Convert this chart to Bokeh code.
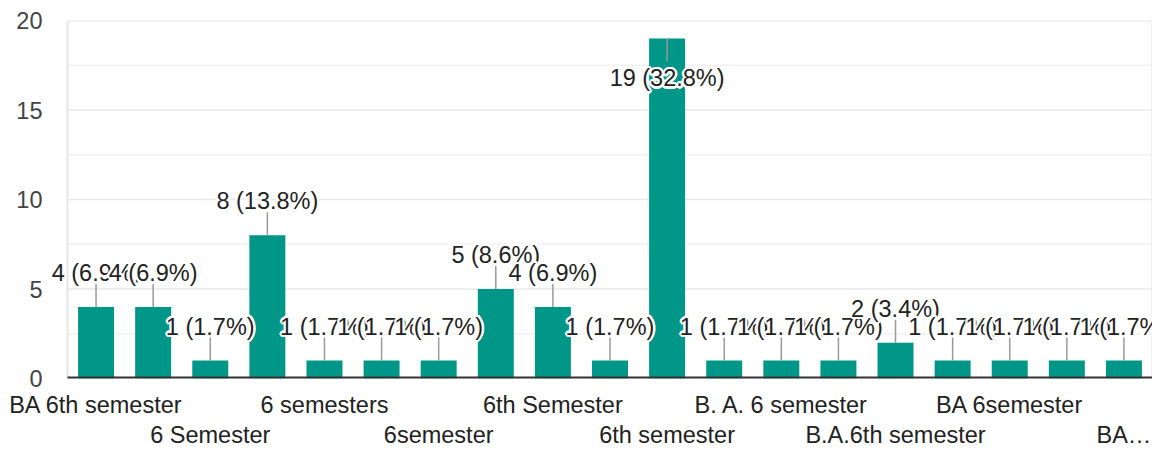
from bokeh.plotting import figure
from bokeh.models import ColumnDataSource, LabelSet, LinearAxis, FixedTicker, SingleIntervalTicker, Range1d
from bokeh.core.properties import value
from bokeh.embed import file_html
from bokeh.resources import INLINE
import math

# ---- data ----
# every second category label is visible on the chart; the others are not shown
categories = ["BA 6th semester", "", "6 Semester", "", "6 semesters", "", "6semester", "",
              "6th Semester", "", "6th semester", "", "B. A. 6 semester", "",
              "B.A.6th semester", "", "BA 6semester", "", "BA…"]
counts = [4, 4, 1, 8, 1, 1, 1, 5, 4, 1, 19, 1, 1, 1, 2, 1, 1, 1, 1]
y_ticks_interval = 5
y_minor_per_major = 2
y_max = 20

FONT = "Liberation Sans"
FS = "23.5px"
BAR = "#009688"

# ---- layout constants (pixels) ----
W, H = 1152, 450
FRAME_L = 45          # frame starts a bit left of the plot area so labels are not clipped
AREA_L = 67           # where the chart area (grid, bars) starts
TOP = 20
BOTTOM = 72

total = sum(counts)
n = len(counts)
xs = list(range(n))
labels = [f"{c} ({c / total * 100:.1f}%)" for c in counts]
inside = [c > 0.85 * y_max for c in counts]
src = ColumnDataSource(dict(
    x=xs, count=counts,
    ang=[-math.pi / 2 if i else math.pi / 2 for i in inside],
))

cat_px = (W - AREA_L) / n
x_start = -0.5 - (AREA_L - FRAME_L) / cat_px

p = figure(width=W, height=H, x_range=Range1d(x_start, n - 0.5), y_range=Range1d(0, y_max),
           output_backend="svg", toolbar_location=None, x_axis_location=None,
           min_border_left=FRAME_L, min_border_right=0, min_border_top=TOP, min_border_bottom=BOTTOM)
p.background_fill_color = "white"
p.border_fill_color = "white"
p.outline_line_color = None
p.grid.visible = False

# grid lines of the chart area (from the chart's own y values)
step = y_ticks_interval / y_minor_per_major
grid_y = [k * step for k in range(1, int(round(y_max / step)) + 1)]
major = [abs(g / y_ticks_interval - round(g / y_ticks_interval)) < 1e-9 for g in grid_y]
p.segment(x0=[-0.5] * len(grid_y), x1=[n - 0.5] * len(grid_y), y0=grid_y, y1=grid_y,
          line_color=["#e8e8e8" if m else "#f1f1f1" for m in major],
          line_width=[2 if g == y_max else 1.5 for g in grid_y])
# chart area side borders
p.segment(x0=[-0.5, n - 0.5], x1=[-0.5, n - 0.5], y0=[0, 0], y1=[y_max, y_max],
          line_color="#e6e6e6", line_width=2)

# y axis
p.yaxis.ticker = SingleIntervalTicker(interval=y_ticks_interval, num_minor_ticks=y_minor_per_major)
p.yaxis.axis_line_color = None
p.yaxis.major_tick_line_color = None
p.yaxis.minor_tick_line_color = None
p.yaxis.major_tick_out = 0
p.yaxis.minor_tick_out = 0
p.yaxis.major_label_standoff = 3
p.yaxis.major_label_text_font = FONT
p.yaxis.major_label_text_font_size = FS
p.yaxis.major_label_text_color = "#444444"

p.vbar(x="x", top="count", bottom=0, width=0.63, fill_color=BAR, line_color=None, source=src)
# baseline
p.segment(x0=[-0.5], x1=[n - 0.5], y0=[0], y1=[0], line_color="#333333", line_width=4)
p.ray(x="x", y="count", length=23, length_units="screen", angle="ang",
      line_color="#9a9a9a", line_width=1.5, source=src)

# value labels: each label preceded by white halo copies (drawn in order)
halo_dirs = [(math.cos(a * math.pi / 8), math.sin(a * math.pi / 8)) for a in range(16)]
R = 2.2
lx, ly, lt, lc, lxo, lyo = [], [], [], [], [], []
for i in range(n):
    base = -40 if inside[i] else 34
    for dx, dy in halo_dirs:
        lx.append(xs[i]); ly.append(counts[i]); lt.append(labels[i]); lc.append("white")
        lxo.append(dx * R); lyo.append(base + dy * R)
    lx.append(xs[i]); ly.append(counts[i]); lt.append(labels[i]); lc.append("#222222")
    lxo.append(0); lyo.append(base)
lab_src = ColumnDataSource(dict(x=lx, y=ly, text=lt, color=lc, xo=lxo, yo=lyo))
p.add_layout(LabelSet(x="x", y="y", text="text", x_offset="xo", y_offset="yo", source=lab_src,
                      text_align="center", text_baseline="middle", text_font=value(FONT),
                      text_font_size=value(FS), text_color="color"))

# two rows of x labels, alternating
shown = [i for i, c in enumerate(categories) if c]
row1 = shown[0::2]
row2 = shown[1::2]


def make_axis(ticks, standoff):
    ax = LinearAxis(ticker=FixedTicker(ticks=ticks, minor_ticks=[]),
                    major_label_overrides={t: categories[t] for t in ticks})
    ax.axis_line_color = None
    ax.major_tick_line_color = None
    ax.minor_tick_line_color = None
    ax.major_tick_out = 0
    ax.major_tick_in = 0
    ax.minor_tick_out = 0
    ax.major_label_standoff = standoff
    ax.major_label_text_font = FONT
    ax.major_label_text_font_size = FS
    ax.major_label_text_color = "#222222"
    return ax


p.add_layout(make_axis(row1, 13), "below")
p.add_layout(make_axis(row2, 1), "below")

open("out.html", "w").write(file_html(p, INLINE))
